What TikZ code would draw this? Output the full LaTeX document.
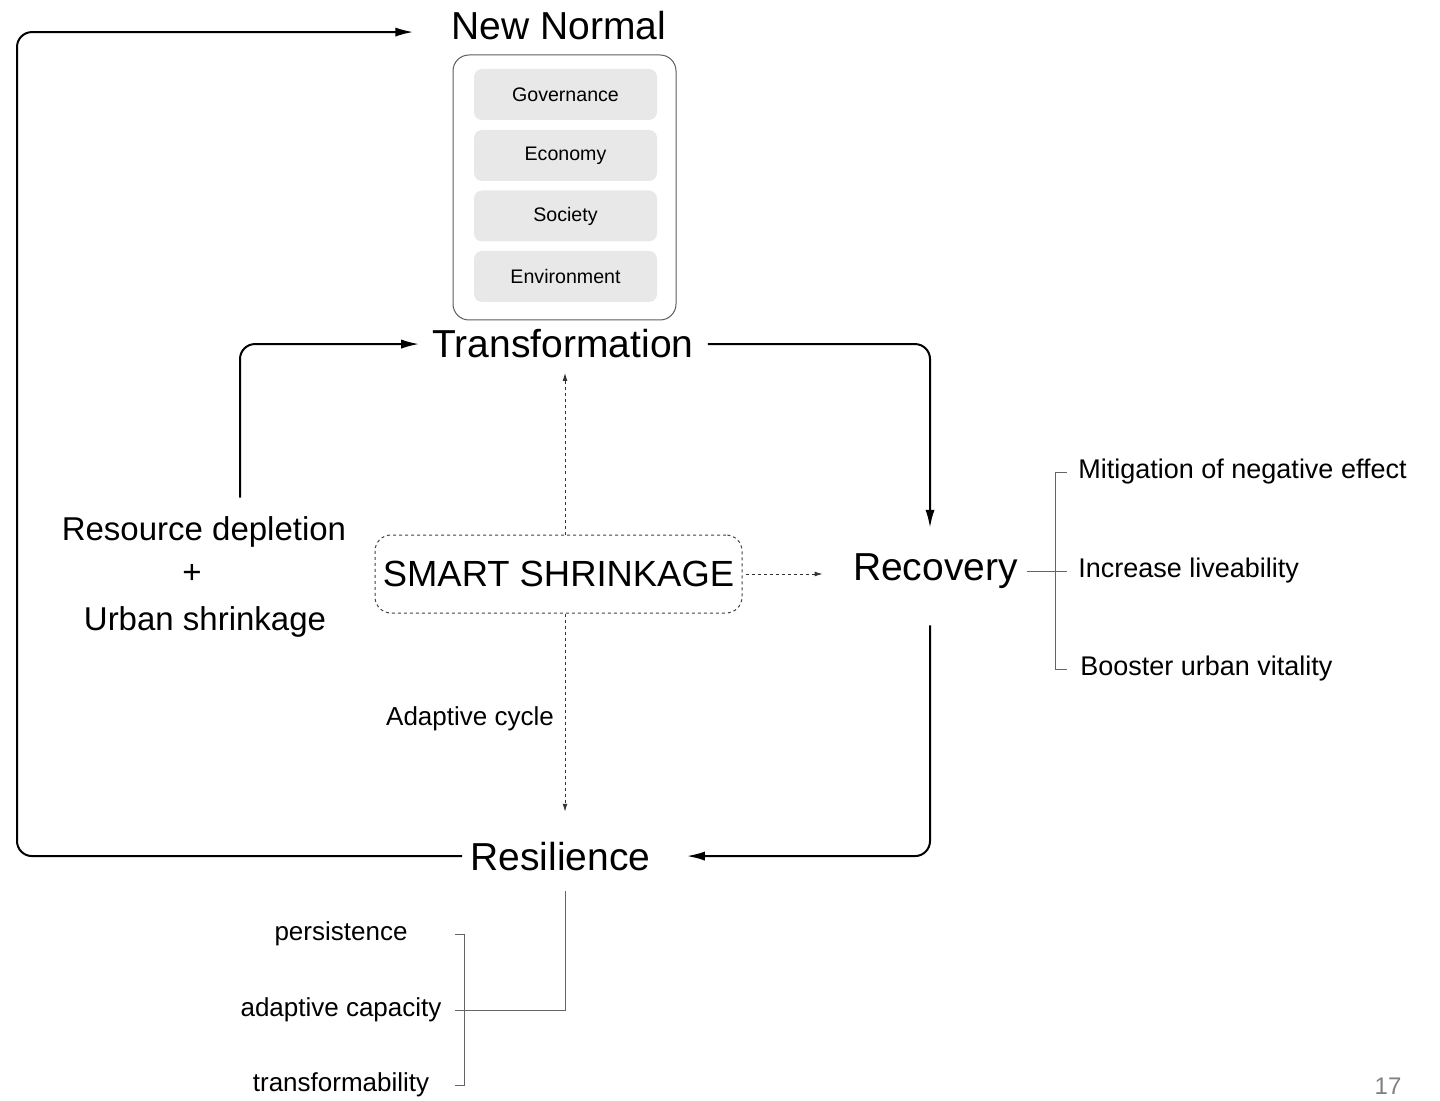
\documentclass[tikz,border=0pt]{standalone}
\usepackage{fontspec}
\setmainfont{Liberation Sans}
\usetikzlibrary{arrows.meta}
\definecolor{pillgray}{RGB}{232,232,232}
\definecolor{framegray}{RGB}{90,90,90}
\definecolor{bracketgray}{RGB}{100,100,100}
\tikzset{
  head/.style={font=\fontsize{19.5}{22}\selectfont, inner sep=0pt, anchor=base},
  sub/.style={font=\fontsize{16.5}{19}\selectfont, inner sep=0pt},
  item/.style={font=\fontsize{13}{15}\selectfont, inner sep=0pt},
  pill/.style={fill=pillgray, rounded corners=4pt, minimum width=91.5pt,
    minimum height=25.5pt, inner sep=0pt, font=\fontsize{9.8}{11}\selectfont},
  frame/.style={draw=framegray, line width=0.5pt, rounded corners=8pt,
    minimum width=111.5pt, minimum height=132.5pt, inner sep=0pt},
  ssbox/.style={draw=black!75, line width=0.5pt, dash pattern=on 1.5pt off 1.5pt,
    rounded corners=8pt, minimum width=183.5pt, minimum height=39pt, inner sep=0pt,
    font=\fontsize{18.2}{21}\selectfont},
  conn/.style={line width=1pt, rounded corners=7.5pt,
    -{Latex[length=9pt,width=4.6pt]}},
  dotconn/.style={line width=0.5pt, draw=black!80, dash pattern=on 1.5pt off 1.5pt,
    -{Latex[length=4pt,width=2.4pt]}},
  brk/.style={line width=0.5pt, draw=bracketgray},
}
\begin{document}
\begin{tikzpicture}[x=0.5pt, y=-0.5pt]
\useasboundingbox (0,0) rectangle (1440,1101);

% main stages
\node[head] (nn) at (559,40) {New Normal};
\node[head] (tr) at (563,358) {Transformation};
\node[head] (rc) at (935.5,580) {Recovery};
\node[head] (rs) at (560.5,870) {Resilience};

% dimensions of the new normal
\node[frame] (nb) at (564.5,187.5) {};
\node[pill] (gov) at (565.5,94.5) {Governance};
\node[pill] (eco) at (565.5,155.5) {Economy};
\node[pill] (soc) at (565.5,216) {Society};
\node[pill] (env) at (565.5,276.5) {Environment};

% drivers
\node[sub, anchor=base] (rd1) at (204,540) {Resource depletion};
\node[sub] (pl) at (192,574) {+};
\node[sub, anchor=base] (rd2) at (205,630) {Urban shrinkage};

% central strategy
\node[ssbox] (ss) at (558.5,574) {SMART SHRINKAGE};
\node[item, anchor=base] (ac1) at (470,725) {Adaptive cycle};

% outcomes of recovery
\node[item, font=\fontsize{13.5}{15}\selectfont, anchor=west] (mi) at (1078,472) {Mitigation of negative effect};
\node[item, font=\fontsize{13.5}{15}\selectfont, anchor=west] (il) at (1078,571) {Increase liveability};
\node[item, font=\fontsize{13.5}{15}\selectfont, anchor=west] (bv) at (1080,669) {Booster urban vitality};

% properties of resilience
\node[item] (pe) at (341,934) {persistence};
\node[item] (ac) at (341,1010) {adaptive capacity};
\node[item] (tf) at (341,1085) {transformability};

% page number
\node[font=\fontsize{12}{14}\selectfont, text=black!50, inner sep=0pt, anchor=base] (pg) at (1388,1094) {17};

% solid cycle
\draw[conn] ([xshift=18pt,yshift=9pt]rd1.north) |- ([xshift=-6.5pt]tr.west);
\draw[conn] ([xshift=7pt]tr.east) -| ([xshift=-2.75pt,yshift=12.5pt]rc.north);
\draw[conn] ([xshift=-2.75pt,yshift=-18.5pt]rc.south) |- ([xshift=18pt]rs.east);
\coordinate (lx) at (17,450);
\draw[conn] ([xshift=-4pt]rs.west) -| (lx) |- ([xshift=-19pt,yshift=-3pt]nn.west);

% dotted links from smart shrinkage
\coordinate (ssn) at ([xshift=3.25pt]ss.north);
\coordinate (trb) at ([yshift=-7pt]tr.south);
\draw[dotconn] (ssn) -- (ssn |- trb);
\coordinate (sss) at ([xshift=3.25pt]ss.south);
\coordinate (rst) at ([yshift=14.75pt]rs.north);
\draw[dotconn] (sss) -- (sss |- rst);
\coordinate (sse) at ([xshift=1.5pt]ss.east);
\coordinate (rcw) at ([xshift=-15pt]rc.west);
\draw[dotconn] (sse) -- (sse -| rcw);

% recovery bracket
\coordinate (rj) at (1055,571);
\coordinate (rce) at ([xshift=4.5pt]rc.east);
\draw[brk] (rce |- rj) -- ([xshift=-5.5pt]il.west);
\draw[brk] ([xshift=-5.5pt]mi.west) -| (rj) |- ([xshift=-6.5pt]bv.west);

% resilience bracket
\coordinate (tk) at ([xshift=6.5pt]ac.east);
\draw[brk] ([xshift=2.25pt,yshift=-10pt]rs.south) |- (tk);
\draw[brk] (pe.east -| tk) -- ++(10,0) |- (tf.east -| tk);
\end{tikzpicture}
\end{document}
